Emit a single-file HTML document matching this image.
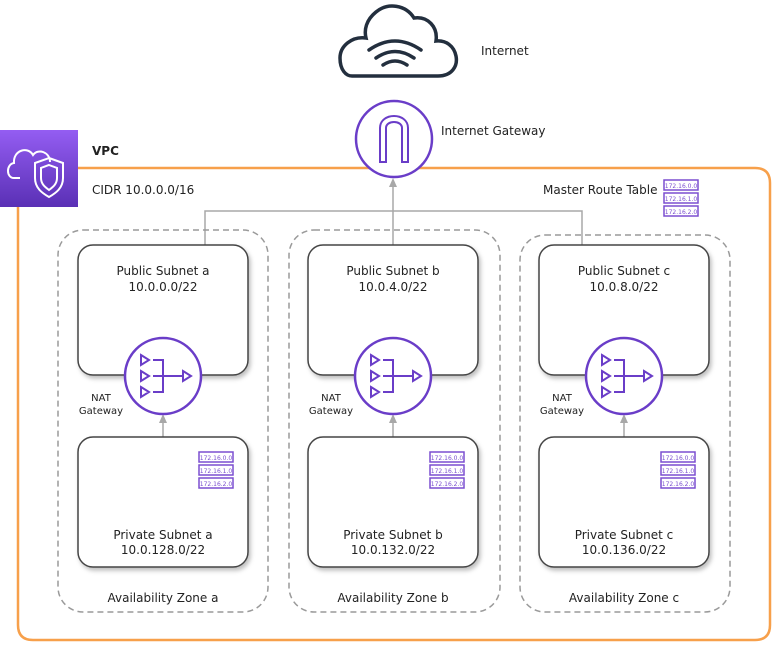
<!DOCTYPE html>
<html><head><style>body{margin:0;background:#fff}svg{display:block}text{font-family:"DejaVu Sans","Liberation Sans",sans-serif;fill:#222}</style></head><body>
<svg width="781" height="654" viewBox="0 0 781 654" xmlns="http://www.w3.org/2000/svg">
<defs>
<linearGradient id="vg" x1="0" y1="0" x2="0" y2="1"><stop offset="0" stop-color="#945df2"/><stop offset="1" stop-color="#5a30b5"/></linearGradient>
<filter id="sh" x="-10%" y="-10%" width="130%" height="130%"><feDropShadow dx="2" dy="3" stdDeviation="2" flood-color="#000" flood-opacity="0.25"/></filter>
<g id="rt"><rect x="0" y="0" width="34" height="10" fill="#fff" stroke="#7b4fd0" stroke-width="1.5"/><rect x="0" y="13" width="34" height="10" fill="#fff" stroke="#7b4fd0" stroke-width="1.5"/><rect x="0" y="26" width="34" height="10" fill="#fff" stroke="#7b4fd0" stroke-width="1.5"/>
<text x="17" y="8" font-size="6" text-anchor="middle" style="fill:#7b4fd0">172.16.0.0</text><text x="17" y="21" font-size="6" text-anchor="middle" style="fill:#7b4fd0">172.16.1.0</text><text x="17" y="34" font-size="6" text-anchor="middle" style="fill:#7b4fd0">172.16.2.0</text></g>
<g id="nat"><circle r="38" fill="#fff" stroke="#6a3dc8" stroke-width="2.5"/>
<g fill="none" stroke="#6a3dc8" stroke-width="2"><path d="M-22,-21 L-14,-16 L-22,-11Z M-22,-5 L-14,0 L-22,5Z M-22,11 L-14,16 L-22,21Z M-10,-16 H0 V16 H-10 M-10,0 H20 M20,-5 L28,0 L20,5Z"/></g></g>
</defs>
<path d="M352,76 H438 C452,76 458,66 456,56 C454,46 446,40 436,41 C438,27 428,16 414,18 C406,5 388,2 376,12 C366,20 364,30 366,38 C352,36 340,46 340,58 C340,70 346,76 352,76Z" fill="#fff" stroke="#232f3e" stroke-width="3.5"/>
<g fill="none" stroke="#232f3e" stroke-width="3.5" stroke-linecap="round"><path d="M369,50 Q395,32 421,50"/><path d="M376,58 Q395,45 414,58"/><path d="M383,65 Q395,57 407,65"/></g>
<text x="481" y="55" font-size="12">Internet</text>
<path d="M78,168 H755 Q770,168 770,183 V625 Q770,640 755,640 H33 Q18,640 18,625 V207" fill="none" stroke="#f7a04b" stroke-width="2.5"/>
<rect x="0" y="130" width="78" height="77" fill="url(#vg)"/>
<path d="M20,178 H14 C6,178 6,164 14,163 C13,150 28,146 33,155 C38,148 50,152 50,162" fill="none" stroke="#fff" stroke-width="2"/>
<path d="M49,158 L63,163 V178 C63,188 56,193 49,197 C42,193 35,188 35,178 V163Z" fill="none" stroke="#fff" stroke-width="2"/>
<path d="M49,165 L57,168 V178 C57,184 53,187 49,190 C45,187 41,184 41,178 V168Z" fill="none" stroke="#fff" stroke-width="2"/>
<text x="92" y="155" font-size="12" font-weight="bold">VPC</text>
<text x="92" y="194" font-size="12">CIDR 10.0.0.0/16</text>
<text x="543" y="194" font-size="12">Master Route Table</text>
<use href="#rt" x="664" y="180"/>
<g fill="none" stroke="#a8a8a8" stroke-width="1.5"><path d="M205,245 V211 H582 V245 M393,245 V180"/><path d="M163,437 V416 M393,437 V416 M624,437 V416"/></g>
<g fill="#a8a8a8"><path d="M393,178 L389,187 H397Z"/><path d="M163,414 L159,423 H167Z"/><path d="M393,414 L389,423 H397Z"/><path d="M624,414 L620,423 H628Z"/></g>
<circle cx="394" cy="139" r="38" fill="#fff" stroke="#6a3dc8" stroke-width="2.5"/>
<path d="M380,162 V128 C380,112 408,112 408,128 V162 H402 V128 C402,120 386,120 386,128 V162Z" fill="none" stroke="#6a3dc8" stroke-width="2"/>
<text x="441" y="135" font-size="12">Internet Gateway</text>
<g fill="none" stroke="#9a9a9a" stroke-width="1.5" stroke-dasharray="6,4">
<rect x="58" y="230" width="210" height="382" rx="25"/><rect x="289" y="230" width="211" height="382" rx="25"/><rect x="520" y="235" width="210" height="377" rx="25"/></g>
<g fill="#fff" stroke="#444" stroke-width="1.5" filter="url(#sh)">
<rect x="78" y="245" width="170" height="130" rx="15"/><rect x="308" y="245" width="170" height="130" rx="15"/><rect x="539" y="245" width="170" height="130" rx="15"/>
<rect x="78" y="437" width="170" height="130" rx="15"/><rect x="308" y="437" width="170" height="130" rx="15"/><rect x="539" y="437" width="170" height="130" rx="15"/></g>
<g font-size="12" text-anchor="middle">
<text x="163" y="275">Public Subnet a</text><text x="163" y="291">10.0.0.0/22</text>
<text x="393" y="275">Public Subnet b</text><text x="393" y="291">10.0.4.0/22</text>
<text x="624" y="275">Public Subnet c</text><text x="624" y="291">10.0.8.0/22</text>
<text x="163" y="539">Private Subnet a</text><text x="163" y="554">10.0.128.0/22</text>
<text x="393" y="539">Private Subnet b</text><text x="393" y="554">10.0.132.0/22</text>
<text x="624" y="539">Private Subnet c</text><text x="624" y="554">10.0.136.0/22</text>
<text x="163" y="602">Availability Zone a</text><text x="393" y="602">Availability Zone b</text><text x="624" y="602">Availability Zone c</text>
</g>
<use href="#nat" x="163" y="376"/><use href="#nat" x="393" y="376"/><use href="#nat" x="624" y="376"/>
<g font-size="10" text-anchor="middle">
<text x="101" y="401">NAT</text><text x="101" y="414">Gateway</text>
<text x="331" y="401">NAT</text><text x="331" y="414">Gateway</text>
<text x="562" y="401">NAT</text><text x="562" y="414">Gateway</text></g>
<use href="#rt" x="199" y="452"/><use href="#rt" x="430" y="452"/><use href="#rt" x="661" y="452"/>
</svg>
</body></html>
